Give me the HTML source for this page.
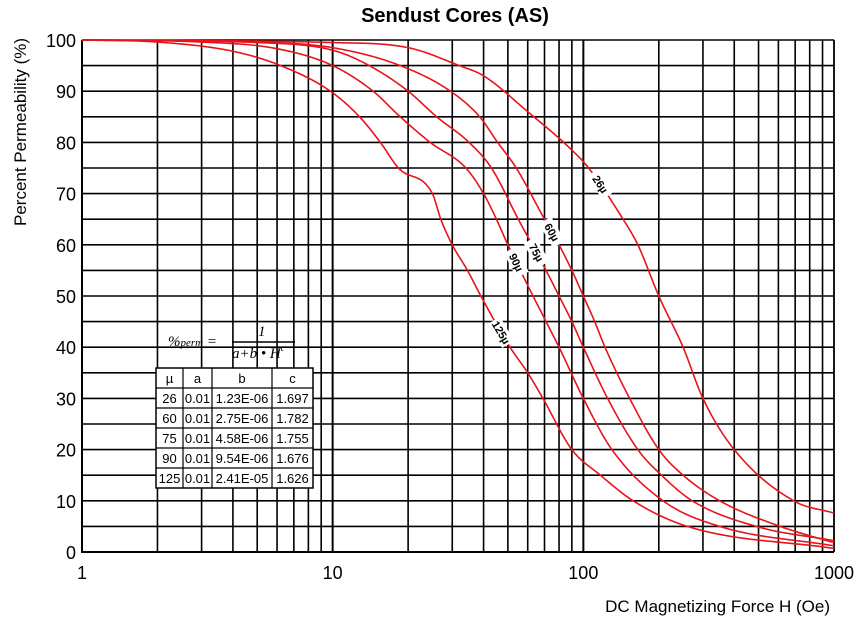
<!DOCTYPE html>
<html><head><meta charset="utf-8"><style>
body{margin:0;background:#fff;}
svg{display:block;font-family:"Liberation Sans",sans-serif;}
</style></head><body>
<svg id="chart" width="860" height="623" viewBox="0 0 860 623" xmlns="http://www.w3.org/2000/svg">
<text x="455" y="22" text-anchor="middle" font-size="20" font-weight="bold">Sendust Cores (AS)</text>
<text transform="translate(26,132) rotate(-90)" text-anchor="middle" font-size="17">Percent Permeability (%)</text>
<text x="830" y="612" text-anchor="end" font-size="17">DC Magnetizing Force H (Oe)</text>
<g id="grid"></g><g id="curves"></g><g id="labels"></g><g id="ticks"></g>
<g font-family="Liberation Serif,serif" font-style="italic">
<text x="168" y="346" font-size="15">%<tspan font-size="11">perm</tspan> =</text>
<line x1="232" y1="342" x2="295" y2="342" stroke="#000" stroke-width="1.5"/>
<text x="258" y="336" font-size="15">1</text>
<text x="232" y="358" font-size="15">a+b • H<tspan font-size="9" dy="-7">c</tspan></text>
</g>
<g id="table"></g>
</svg>
<script>
const mu=["26","60","75","90","125"];
const aVals=[0.01,0.01,0.01,0.01,0.01];
const bVals=[1.23e-6,2.75e-6,4.58e-6,9.54e-6,2.41e-5];
const cVals=[1.697,1.782,1.755,1.676,1.626];
const h26=[1,10,20,32,40,60,90,105,144,165,200,250,300,400,690,1000];
const p26=[100,99.5,98.5,95,93,86,78.5,75,65,60,50,40,30,20,10,7.6];
const h60=[1,5,10,18.6,29.5,38.6,45.5,54,70,80,90,100,111,122,153,200,250,350,610,1000];
const p60=[100,99.6,98.5,95,90,85,80,75,65,60,55,50,45,40,30,20,15,10,5,1.8];
const h75=[1,5,10,14,20,26,35,43,55,71,80,90,100,125,165,205,272,490,1000];
const p75=[100,99.5,98,95,90,85,80,75,65,55,50,45,40,30,20,15,10,5,2.2];
const h90=[1,3,6,10,14.5,18.6,24.5,34,40,45,50,63,71,80,100,130,208,350,1000];
const p90=[100,99.6,98.3,95,90,85,80,75,70,65,60,50,45,40,30,20,10,5,1.2];
const h125=[1,2,4,6.2,9.8,12.8,15.5,18.3,25,27,30,34.5,39,51,60,69,90,117,158,260,1000];
const p125=[100,99.6,97.8,95,90,85,80,75,70,65,60,55,50,40,35,30,20,15,10,5,0.7];
const seriesH=[h26,h60,h75,h90,h125];
const seriesP=[p26,p60,p75,p90,p125];
const labelH=[117,75,65,54,47];
const xTicks=[1,10,100,1000];
const yTicks=[0,10,20,30,40,50,60,70,80,90,100];
const NS="http://www.w3.org/2000/svg";
const X0=82,X1=834,Y0=552,Y1=40;
const xs=h=>X0+(Math.log10(h))/3*(X1-X0);
const ys=v=>Y0-(v/100)*(Y0-Y1);
function mk(t,at,p){const e=document.createElementNS(NS,t);for(const k in at)e.setAttribute(k,at[k]);p.appendChild(e);return e;}
function monotone(xv,yv){const n=xv.length,d=[],m=[];for(let i=0;i<n-1;i++)d.push((yv[i+1]-yv[i])/(xv[i+1]-xv[i]));
m[0]=d[0];m[n-1]=d[n-2];for(let i=1;i<n-1;i++)m[i]=(d[i-1]*d[i]<=0)?0:(d[i-1]+d[i])/2;
for(let i=0;i<n-1;i++){if(d[i]===0){m[i]=0;m[i+1]=0;continue;}const a=m[i]/d[i],b=m[i+1]/d[i],s=a*a+b*b;if(s>9){const t=3/Math.sqrt(s);m[i]=t*a*d[i];m[i+1]=t*b*d[i];}}
return x=>{let i=0;while(i<n-2&&x>xv[i+1])i++;const h=xv[i+1]-xv[i],t=(x-xv[i])/h,t2=t*t,t3=t2*t;
return (2*t3-3*t2+1)*yv[i]+(t3-2*t2+t)*h*m[i]+(-2*t3+3*t2)*yv[i+1]+(t3-t2)*h*m[i+1];};}
const grid=document.getElementById('grid');
for(let v=0;v<=100;v+=5){const l=mk('line',{x1:X0,x2:X1,y1:ys(v),y2:ys(v),stroke:'#000','stroke-width':1.6},grid);

}
for(let d=1;d<1000;d*=10)for(let k=1;k<=10;k++){const h=d*k;const l=mk('line',{x1:xs(h),x2:xs(h),y1:Y1,y2:Y0,stroke:'#000','stroke-width':(k==1||k==10)?1.8:1.6},grid);

}
const ax=mk('path',{d:`M${X0},${Y1}V${Y0}H${X1}`,stroke:'#000','stroke-width':2,fill:'none'},grid);


const cg=document.getElementById('curves'),lg=document.getElementById('labels');
mu.forEach((m,i)=>{const f=monotone(seriesH[i].map(Math.log10),seriesP[i]);let d='';
for(let s=0;s<=600;s++){const lh=s/200;d+=(s?'L':'M')+xs(Math.pow(10,lh)).toFixed(2)+','+ys(f(lh)).toFixed(2);}
const p=mk('path',{d,stroke:'#e8141c','stroke-width':1.6,fill:'none'},cg);


const h=labelH[i],x=xs(h),y=ys(f(Math.log10(h))),x2=xs(h*1.03),y2=ys(f(Math.log10(h*1.03)));
const ang=Math.atan2(y2-y,x2-x)*180/Math.PI;
const g=mk('g',{transform:`translate(${x},${y}) rotate(${ang})`},lg);


mk('rect',{x:-14,y:-7,width:28,height:14,fill:'#fff'},g);
const t=mk('text',{x:0,y:4,'text-anchor':'middle','font-size':11,'font-weight':'bold'},g);t.textContent=m+'µ';});
const tk=document.getElementById('ticks');
yTicks.forEach(v=>{const t=mk('text',{x:76,y:ys(v)+7,'text-anchor':'end','font-size':18},tk);t.textContent=v;

});
xTicks.forEach(v=>{const t=mk('text',{x:xs(v),y:579,'text-anchor':'middle','font-size':18},tk);t.textContent=v;

});
const tb=document.getElementById('table');
const cx=[156,183,212,272,313],ry=368,rh=20;
mk('rect',{x:156,y:ry,width:157,height:rh*6,fill:'#fff',stroke:'#000','stroke-width':1.5},tb);
for(let r=1;r<6;r++)mk('line',{x1:156,x2:313,y1:ry+r*rh,y2:ry+r*rh,stroke:'#000','stroke-width':1.2},tb);
for(let c=1;c<4;c++)mk('line',{x1:cx[c],x2:cx[c],y1:ry,y2:ry+6*rh,stroke:'#000','stroke-width':1.2},tb);
const rows=[["µ","a","b","c"]].concat(mu.map((m,i)=>[m,aVals[i].toFixed(2),bVals[i].toExponential(2).toUpperCase().replace(/E([+-])(\d)$/,'E$10$2'),cVals[i].toFixed(3)]));
rows.forEach((row,r)=>row.forEach((s,c)=>{const t=mk('text',{x:(cx[c]+cx[c+1])/2,y:ry+r*rh+15,'text-anchor':'middle','font-size':13},tb);t.textContent=s;}));
</script>
</body></html>
